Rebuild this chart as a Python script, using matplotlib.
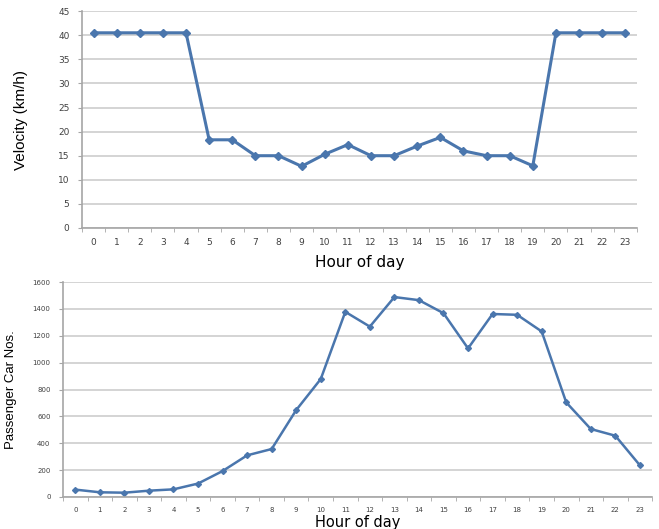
import numpy as np
import matplotlib
matplotlib.use("Agg")
import matplotlib.pyplot as plt
from matplotlib.ticker import FixedLocator

hours = [str(h) for h in range(24)]
velocity = [40.5, 40.5, 40.5, 40.5, 40.5, 18.3, 18.3, 15.0, 15.0, 12.8, 15.3, 17.3,
            15.0, 15.0, 17.0, 18.8, 16.0, 15.0, 15.0, 12.9, 40.5, 40.5, 40.5, 40.5]
cars = [55, 35, 32, 47, 57, 100, 193, 310, 357, 647, 878, 1378,
        1268, 1488, 1465, 1368, 1106, 1362, 1356, 1232, 704, 506, 456, 236]

blue = "#4a76ad"
grid_c = "#cdcdcd"
spine_c = "#a6a6a6"
narrow = ["Liberation Sans", "DejaVu Sans"]

fig = plt.figure(figsize=(6.59, 5.29), dpi=100)
ax1 = fig.add_axes([0.1244, 0.569, 0.842, 0.410])
ax2 = fig.add_axes([0.0956, 0.0605, 0.894, 0.4064])


def style(ax, ymax, ystep, fs):
    x = np.arange(24)
    ax.set_xlim(-0.5, 23.5)
    ax.set_ylim(0, ymax)
    ax.set_yticks(np.arange(0, ymax + 1, ystep))
    ax.set_xticks(x)
    ax.set_xticklabels(hours)
    ax.xaxis.set_minor_locator(FixedLocator(np.arange(-0.5, 24, 1)))
    ax.tick_params(axis="x", which="major", length=0, labelsize=fs, colors="#404040", pad=7)
    ax.tick_params(axis="x", which="minor", length=3, color=spine_c)
    ax.tick_params(axis="y", length=3, color=spine_c, labelsize=fs, colors="#404040", pad=6)
    ax.grid(axis="y", color=grid_c, linewidth=1.2)
    ax.set_axisbelow(True)
    for s in ["top", "right"]:
        ax.spines[s].set_visible(False)
    for s in ["left", "bottom"]:
        ax.spines[s].set_color(spine_c)
        ax.spines[s].set_linewidth(1.2)


style(ax1, 45, 5, 6.5)
ax1.plot(np.arange(24), velocity, color=blue, linewidth=2.2, marker="D", markersize=4)
ax1.set_xlabel("Hour of day", fontsize=11, labelpad=6)
ax1.set_ylabel("Velocity (km/h)", fontsize=11, family=narrow)
ax1.yaxis.set_label_coords(-0.097, 0.5)

style(ax2, 1600, 200, 5)
ax2.plot(np.arange(24), cars, color=blue, linewidth=1.8, marker="D", markersize=3)
ax2.set_xlabel("Hour of day", fontsize=10.5, labelpad=2)
ax2.set_ylabel("Passenger Car Nos.", fontsize=9.5, family=narrow)
ax2.yaxis.set_label_coords(-0.078, 0.5)

fig.savefig("out.png", dpi=100)
